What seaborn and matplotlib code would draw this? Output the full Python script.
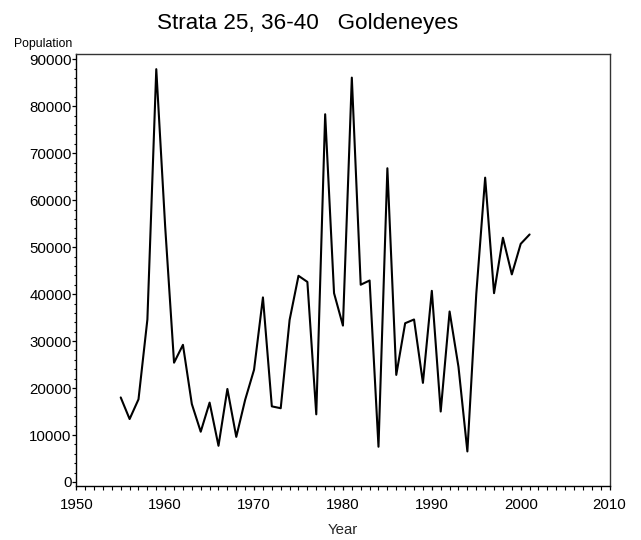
import numpy as np
import pandas as pd
import matplotlib
matplotlib.use("Agg")
import matplotlib.pyplot as plt
from matplotlib.ticker import MultipleLocator
import seaborn as sns

# Annual goldeneye population estimates, strata 25 and 36-40
years = list(range(1955, 2002))
population = [
    18000, 13400, 17600, 34600, 87900, 54400, 25400, 29200, 16600, 10700,
    16900, 7700, 19800, 9600, 17500, 23900, 39300, 16100, 15700, 34500,
    43900, 42600, 14400, 78300, 40200, 33300, 86100, 42000, 42900, 7500,
    66800, 22800, 33800, 34600, 21100, 40700, 15000, 36300, 24500, 6500,
    40000, 64800, 40200, 52000, 44200, 50700, 52700,
]
title_text = "Strata 25, 36-40   Goldeneyes"
x_label = "Year"
y_label = "Population"

df = pd.DataFrame({"Year": years, "Population": population})

sns.set_style("ticks")
plt.rcParams["font.family"] = ["Liberation Sans", "DejaVu Sans"]

fig = plt.figure(figsize=(6.41, 5.40), dpi=100)
ax = fig.add_axes([0.119, 0.1006, 0.832, 0.7988])

sns.lineplot(data=df, x="Year", y="Population", ax=ax,
             color="black", linewidth=1.5)

ax.set_xlim(1950, 2010)
ax.set_ylim(-790, 91060)
ax.xaxis.set_major_locator(MultipleLocator(10))
ax.xaxis.set_minor_locator(MultipleLocator(1))
ax.yaxis.set_major_locator(MultipleLocator(10000))
ax.yaxis.set_minor_locator(MultipleLocator(2000))
ax.ticklabel_format(axis="y", style="plain", useOffset=False)

ax.tick_params(axis="x", which="major", direction="out", length=3.1,
               width=0.9, color="black", labelsize=10.8, pad=5.5,
               labelcolor="black")
ax.tick_params(axis="y", which="major", direction="out", length=2.6,
               width=0.9, color="black", labelsize=10.8, pad=0.8,
               labelcolor="black")
ax.tick_params(axis="x", which="minor", direction="out", length=2.6,
               width=0.8, color="black")
ax.tick_params(axis="y", which="minor", direction="out", length=1.8,
               width=0.8, color="black")

for side in ["left", "bottom"]:
    ax.spines[side].set_color("black")
    ax.spines[side].set_linewidth(1.0)
for side in ["top", "right"]:
    ax.spines[side].set_visible(True)
    ax.spines[side].set_color("#333333")
    ax.spines[side].set_linewidth(1.0)

ax.set_xlabel(x_label, fontsize=10.8, labelpad=8)
ax.set_ylabel("")

fig.text(308 / 641, 1 - 29 / 540, title_text, ha="center", va="baseline",
         fontsize=16.2, color="black")
fig.text(14 / 641, 1 - 47 / 540, y_label, ha="left", va="baseline",
         fontsize=8.8, color="black")

fig.savefig("out.png", dpi=100, facecolor="white")
